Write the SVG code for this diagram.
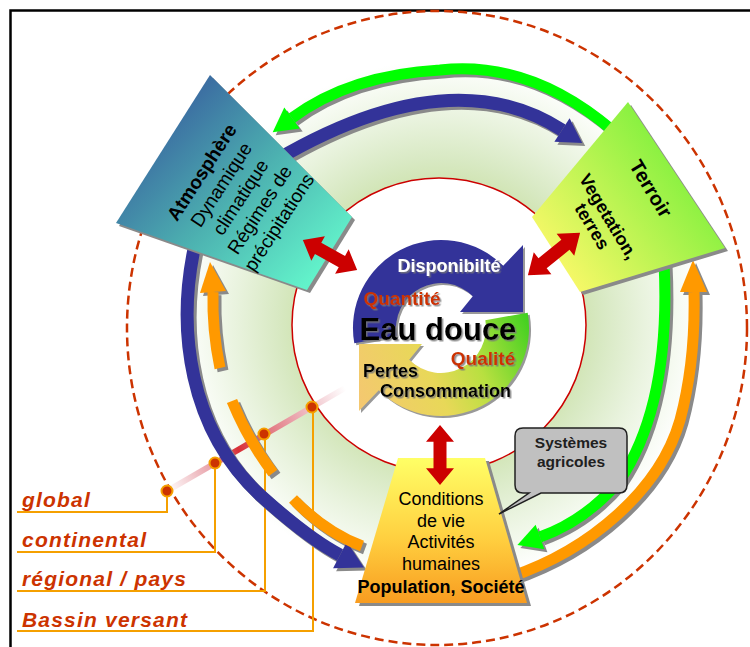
<svg xmlns="http://www.w3.org/2000/svg" width="750" height="647" viewBox="0 0 750 647">
<defs>
<style>
text{font-family:"Liberation Sans",Arial,sans-serif}
.shb{fill:none;stroke:#8a8a8a;stroke-width:13}
.shs{fill:none;stroke:#8a8a8a;stroke-width:11}
.shf{fill:#8a8a8a}
.blue{fill:none;stroke:#333399;stroke-width:13}
.bluef{fill:#333399}
.green{fill:none;stroke:#00ff00;stroke-width:11}
.greenf{fill:#00ff00}
.orange{fill:none;stroke:#ff9900;stroke-width:11}
.orangef{fill:#ff9900}
.lab{font-size:21px;font-weight:bold;font-style:italic;fill:#cc3300;letter-spacing:1.2px}
.lead{fill:none;stroke:#f5a000;stroke-width:2}
.dot{fill:#cc3300;stroke:#f5a000;stroke-width:2}
.red{fill:#cc0000}
.ctr{font-weight:bold;filter:url(#tsh)}
.node{font-size:18px;fill:#000;text-anchor:middle}
</style>
<filter id="tsh" x="-10%" y="-40%" width="130%" height="180%">
<feDropShadow dx="1.5" dy="1.5" stdDeviation="0.6" flood-color="#777" flood-opacity="0.8"/>
</filter>
<radialGradient id="ringg" gradientUnits="userSpaceOnUse" cx="440" cy="322" r="262">
<stop offset="0.5" stop-color="#cde2ac"/>
<stop offset="0.62" stop-color="#d8e9c3"/>
<stop offset="0.78" stop-color="#e9f3de"/>
<stop offset="0.92" stop-color="#f7fbf3"/>
<stop offset="1" stop-color="#ffffff"/>
</radialGradient>
<linearGradient id="atmg" gradientUnits="userSpaceOnUse" x1="160" y1="110" x2="320" y2="270">
<stop offset="0" stop-color="#3a66a0"/>
<stop offset="0.5" stop-color="#4cb0b0"/>
<stop offset="1" stop-color="#62f2ca"/>
</linearGradient>
<linearGradient id="terg" gradientUnits="userSpaceOnUse" x1="690" y1="150" x2="550" y2="260">
<stop offset="0" stop-color="#7cf03c"/>
<stop offset="1" stop-color="#f8f868"/>
</linearGradient>
<linearGradient id="popg" gradientUnits="userSpaceOnUse" x1="0" y1="458" x2="0" y2="603">
<stop offset="0" stop-color="#ffff66"/>
<stop offset="0.55" stop-color="#ffd040"/>
<stop offset="1" stop-color="#f89c20"/>
</linearGradient>
<linearGradient id="whg" gradientUnits="userSpaceOnUse" x1="530" y1="320" x2="360" y2="400">
<stop offset="0" stop-color="#40d020"/>
<stop offset="0.35" stop-color="#b8e040"/>
<stop offset="0.6" stop-color="#e8d858"/>
<stop offset="1" stop-color="#f4c870"/>
</linearGradient>
<linearGradient id="pinkg" gradientUnits="userSpaceOnUse" x1="167" y1="491" x2="345" y2="388">
<stop offset="0" stop-color="#ffffff"/>
<stop offset="0.25" stop-color="#e8a0a8"/>
<stop offset="0.4" stop-color="#d83038"/>
<stop offset="0.55" stop-color="#e07078"/>
<stop offset="0.8" stop-color="#f0c0c8"/>
<stop offset="1" stop-color="#ffffff"/>
</linearGradient>
<path id="dbl" d="M-32,0 L-14,-14 L-14,-6.5 L14,-6.5 L14,-14 L32,0 L14,14 L14,6.5 L-14,6.5 L-14,14 Z"/>
</defs>

<rect x="0" y="0" width="750" height="647" fill="#ffffff"/>
<rect x="10.5" y="10.5" width="800" height="700" fill="none" stroke="#000" stroke-width="2.5"/>

<ellipse cx="437" cy="328" rx="310" ry="317" fill="none" stroke="#cc3300" stroke-width="2.5" stroke-dasharray="9 5"/>

<ellipse cx="440" cy="322" rx="262" ry="262" fill="url(#ringg)"/>
<circle cx="439" cy="325" r="147" fill="#ffffff" stroke="#cc0000" stroke-width="1.5"/>

<g id="scale-leads">
<line x1="167" y1="491" x2="345" y2="388" stroke="url(#pinkg)" stroke-width="6"/>
<path class="lead" d="M17,512 H167 V491"/>
<path class="lead" d="M17,552 H215 V464"/>
<path class="lead" d="M17,591 H265 V434"/>
<path class="lead" d="M17,631 H313 V407"/>
</g>

<g id="connectors-cycle">
<g transform="translate(3,3)">
<path class="shs" d="M612,130 Q530,60 440,70 Q350,75 292,118"/>
<polygon class="shf" points="272.7,132.3 299.7,128.4 284.3,107.6"/>
<path class="shs" d="M664,262 C668,340 660,420 620,480 C595,510 565,528 540,537"/>
<polygon class="shf" points="517.4,545.1 544.4,549.2 535.6,524.8"/>
<path class="shb" d="M276,160 Q450,58 562,130"/>
<polygon class="shf" points="582.2,143 554.4,141.8 569.6,118.2"/>
<path class="shs" d="M510,577 C590,550 660,490 680,420 C692,375 695,335 694,292"/>
<polygon class="shf" points="693,260 707,292 680,292"/>
<path class="shb" d="M196,240 C175,330 190,430 260,495 C290,522 315,542 340,555"/>
<polygon class="shf" points="364,567.4 333.1,568.3 346.9,541.7"/>
<path class="shs" d="M220,368 Q212,330 213,292"/>
<polygon class="shf" points="210,262 200,293 226,291"/>
<path class="shs" d="M232,401 Q248,440 273,473"/>
<path class="shs" d="M293,499 Q325,532 362,546"/>
</g>
<path class="green" d="M612,130 Q530,60 440,70 Q350,75 292,118"/>
<polygon class="greenf" points="272.7,132.3 299.7,128.4 284.3,107.6"/>
<path class="green" d="M664,262 C668,340 660,420 620,480 C595,510 565,528 540,537"/>
<polygon class="greenf" points="517.4,545.1 544.4,549.2 535.6,524.8"/>
<path class="blue" d="M276,160 Q450,58 562,130"/>
<polygon class="bluef" points="582.2,143 554.4,141.8 569.6,118.2"/>
<path class="orange" d="M510,577 C590,550 660,490 680,420 C692,375 695,335 694,292"/>
<polygon class="orangef" points="693,260 707,292 680,292"/>
<path class="blue" d="M196,240 C175,330 190,430 260,495 C290,522 315,542 340,555"/>
<polygon class="bluef" points="364,567.4 333.1,568.3 346.9,541.7"/>
<path class="orange" d="M220,368 Q212,330 213,292"/>
<polygon class="orangef" points="210,262 200,293 226,291"/>
<path class="orange" d="M232,401 Q248,440 273,473"/>
<path class="orange" d="M293,499 Q325,532 362,546"/>
</g>

<g id="scale-dots">
<circle class="dot" cx="167" cy="491" r="5.5"/>
<circle class="dot" cx="215" cy="463" r="5.5"/>
<circle class="dot" cx="264" cy="434" r="5.5"/>
<circle class="dot" cx="312" cy="407" r="5.5"/>
</g>

<g id="eau-douce">
<g transform="translate(2,2)" fill="#999999">
<path d="M354.3,343.3 A88,88 0 0 1 503.2,265.8 L523,245 L523,312 L460,312 L472.8,296.2 A45,45 0 0 0 396.7,335.8 Z"/>
<path d="M527.7,312.7 A88,88 0 0 1 378.8,390.2 L359,411 L359,344 L422,344 L409.2,359.8 A45,45 0 0 0 485.3,320.2 Z"/>
</g>
<path fill="#333399" d="M354.3,343.3 A88,88 0 0 1 503.2,265.8 L523,245 L523,312 L460,312 L472.8,296.2 A45,45 0 0 0 396.7,335.8 Z"/>
<path fill="url(#whg)" d="M527.7,312.7 A88,88 0 0 1 378.8,390.2 L359,411 L359,344 L422,344 L409.2,359.8 A45,45 0 0 0 485.3,320.2 Z"/>
<text class="ctr" x="449" y="272" font-size="18" fill="#ffffff" text-anchor="middle">Disponibilté</text>
<text class="ctr" x="402" y="305" font-size="19" fill="#cc3300" text-anchor="middle">Quantité</text>
<text class="ctr" x="438" y="340" font-size="31" fill="#000000" text-anchor="middle">Eau douce</text>
<text class="ctr" x="483" y="365" font-size="19" fill="#cc3300" text-anchor="middle">Qualité</text>
<text class="ctr" x="363" y="377" font-size="18" fill="#000000">Pertes</text>
<text class="ctr" x="380" y="397" font-size="18" fill="#000000">Consommation</text>
</g>

<g id="atmosphere">
<polygon class="shf" transform="translate(3,3)" points="210,75 352,217 307,290 116,223"/>
<polygon fill="url(#atmg)" points="210,75 352,217 307,290 116,223"/>
<g transform="translate(240,197) rotate(-57)" font-size="19" text-anchor="middle" fill="#000">
<text x="0" y="-39" font-weight="bold">Atmosphère</text>
<text x="0" y="-16">Dynamique</text>
<text x="0" y="7">climatique</text>
<text x="0" y="30">Régimes de</text>
<text x="0" y="53">précipitations</text>
</g>
</g>

<g id="terroir">
<polygon class="shf" transform="translate(3,3)" points="628,102 725,248 580,292 532,217"/>
<polygon fill="url(#terg)" points="628,102 725,248 580,292 532,217"/>
<g transform="translate(620,205) rotate(59)" text-anchor="middle" font-weight="bold" fill="#000">
<text x="2" y="-28" font-size="20">Terroir</text>
<text x="4" y="22" font-size="18">Vegetation,</text>
<text x="4" y="41" font-size="18">terres</text>
</g>
</g>

<g id="population">
<polygon class="shf" transform="translate(4,3)" points="398,458 485,458 527,603 355,603"/>
<polygon fill="url(#popg)" points="398,458 485,458 527,603 355,603"/>
<text class="node" x="441" y="505">Conditions</text>
<text class="node" x="441" y="527">de vie</text>
<text class="node" x="441" y="548">Activités</text>
<text class="node" x="441" y="570">humaines</text>
<text class="node" x="441" y="593" font-weight="bold">Population, Société</text>
</g>

<g id="connectors-links">
<use href="#dbl" class="red" transform="translate(330,255) rotate(29) scale(0.97,1)"/>
<use href="#dbl" class="red" transform="translate(554,254) rotate(141) scale(1.05,1)"/>
<use href="#dbl" class="red" transform="translate(440,455) rotate(90) scale(0.94,1)"/>
</g>

<g id="systemes-agricoles">
<path fill="#c0c0c0" stroke="#202020" stroke-width="1.5" d="M523,428 H619 Q627,428 627,436 V485 Q627,493 619,493 H541 L499,514 L529,493 H523 Q515,493 515,485 V436 Q515,428 523,428 Z"/>
<text x="571" y="448" font-size="15.5" font-weight="bold" fill="#202020" text-anchor="middle">Systèmes</text>
<text x="571" y="467" font-size="15.5" font-weight="bold" fill="#202020" text-anchor="middle">agricoles</text>
</g>

<g id="scale-labels">
<text class="lab" x="22" y="507">global</text>
<text class="lab" x="22" y="547">continental</text>
<text class="lab" x="22" y="586">régional / pays</text>
<text class="lab" x="22" y="627">Bassin versant</text>
</g>
</svg>
